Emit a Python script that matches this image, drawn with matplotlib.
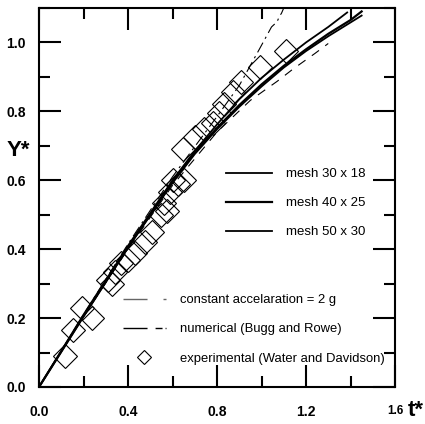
import matplotlib
matplotlib.use("Agg")
import matplotlib.pyplot as plt
from matplotlib.lines import Line2D
from matplotlib.ticker import MultipleLocator

plt.rcParams['font.family'] = ['Liberation Sans', 'DejaVu Sans']

# Mesh refinement runs: dimensionless time t* vs. height Y*
t_mesh30 = [0, 0.2, 0.4, 0.6, 0.7, 0.8, 0.9, 1.0, 1.1, 1.2, 1.3, 1.385]
y_mesh30 = [0, 0.21, 0.41, 0.60, 0.685, 0.762, 0.835, 0.897, 0.95, 1.0, 1.045, 1.087]
t_mesh40 = [0, 0.2, 0.4, 0.6, 0.7, 0.8, 0.9, 1.0, 1.1, 1.2, 1.3, 1.4, 1.45]
y_mesh40 = [0, 0.205, 0.405, 0.595, 0.68, 0.752, 0.818, 0.878, 0.932, 0.98, 1.025, 1.065, 1.09]
t_mesh50 = [0, 0.2, 0.4, 0.6, 0.7, 0.8, 0.9, 1.0, 1.1, 1.2, 1.3, 1.4, 1.45]
y_mesh50 = [0, 0.205, 0.405, 0.592, 0.676, 0.748, 0.813, 0.872, 0.927, 0.975, 1.018, 1.058, 1.078]

# Constant acceleration estimate
t_const = [0, 0.2, 0.4, 0.6, 0.8, 0.95, 1.07, 1.14, 1.24, 1.30]
y_const = [0, 0.205, 0.4, 0.585, 0.74, 0.832, 0.887, 0.922, 0.968, 0.997]

# Numerical solution (Bugg and Rowe)
t_num = [0, 0.2, 0.4, 0.6, 0.8, 0.9, 0.99, 1.045, 1.07, 1.08, 1.09, 1.10]
y_num = [0, 0.21, 0.415, 0.61, 0.785, 0.875, 0.98, 1.045, 1.06, 1.075, 1.085, 1.10]

# Experimental points (Water and Davidson)
t_exp = [0.115, 0.155, 0.195, 0.24, 0.31, 0.33, 0.34, 0.37, 0.40, 0.43, 0.475,
         0.51, 0.55, 0.56, 0.575, 0.59, 0.60, 0.625, 0.645, 0.65, 0.70, 0.74,
         0.78, 0.81, 0.83, 0.87, 0.91, 0.995, 1.11]
y_exp = [0.09, 0.165, 0.23, 0.20, 0.31, 0.30, 0.335, 0.36, 0.37, 0.39, 0.42,
         0.45, 0.50, 0.535, 0.51, 0.565, 0.60, 0.59, 0.69, 0.60, 0.725, 0.75,
         0.765, 0.795, 0.82, 0.855, 0.885, 0.93, 0.975]

x_ticks = [0.0, 0.4, 0.8, 1.2, 1.6]
x_ticklabels = ['0.0', '0.4', '0.8', '1.2', '1.6']
y_ticks = [0.0, 0.2, 0.4, 0.6, 0.8, 1.0]
y_ticklabels = ['0.0', '0.2', '0.4', '0.6', '0.8', '1.0']

fig = plt.figure(figsize=(4.25, 4.24), dpi=100)
ax = fig.add_axes([39 / 425, 1 - 387 / 424, 356 / 425, 379 / 424])

ax.plot(t_exp, y_exp, linestyle='none', marker='D', markersize=12,
        markerfacecolor='none', markeredgecolor='black', markeredgewidth=0.8)
ax.plot(t_const, y_const, color='black', lw=0.8, dashes=(8, 7))
ax.plot(t_num, y_num, color='black', lw=0.8, dashes=(10, 4, 2, 4))
ax.plot(t_mesh30, y_mesh30, color='black', lw=1.3)
ax.plot(t_mesh40, y_mesh40, color='black', lw=1.6)
ax.plot(t_mesh50, y_mesh50, color='black', lw=1.3)

ax.set_xlim(0, 1.6)
ax.set_ylim(0, 1.1)
ax.set_xticks(x_ticks)
ax.set_xticklabels(x_ticklabels)
ax.set_yticks(y_ticks)
ax.set_yticklabels(y_ticklabels)
ax.xaxis.set_minor_locator(MultipleLocator(0.2))
ax.yaxis.set_minor_locator(MultipleLocator(0.1))
ax.tick_params(which='both', direction='in', top=True, right=True, width=1.5)
ax.tick_params(which='major', length=16, labelsize=10)
ax.tick_params(axis='x', which='major', pad=13)
ax.tick_params(axis='y', which='major', pad=9.5)
ax.tick_params(which='minor', length=8)
for lab in ax.get_xticklabels() + ax.get_yticklabels():
    lab.set_fontweight('bold')
ax.get_xticklabels()[-1].set_fontsize(8.5)
for sp in ax.spines.values():
    sp.set_linewidth(1.5)

ax.text(-0.025, 0.687, 'Y*', transform=ax.get_yaxis_transform(), ha='right',
        va='center', fontsize=16, fontweight='bold')
ax.text(1.035, -0.076, 't*', transform=ax.transAxes, ha='left',
        va='baseline', fontsize=16, fontweight='bold')

mesh_handles = [Line2D([], [], color='black', lw=1.3),
                Line2D([], [], color='black', lw=1.6),
                Line2D([], [], color='black', lw=1.3)]
leg1 = ax.legend(mesh_handles, ['mesh 30 x 18', 'mesh 40 x 25', 'mesh 50 x 30'],
                 loc='upper left', bbox_to_anchor=(0.526, 0.578), frameon=False,
                 fontsize=9.5, handlelength=3.5, handletextpad=1.0,
                 labelspacing=1.27, borderpad=0, borderaxespad=0)
ax.add_artist(leg1)

other_handles = [Line2D([], [], color='0.4', lw=1.0, dashes=(17.3, 11.5, 2.2, 30)),
                 Line2D([], [], color='black', lw=1.0,
                        dashes=(17.3, 5.8, 5.0, 2.2, 0.7, 20)),
                 Line2D([], [], linestyle='none', marker='D', markersize=7.5,
                        markerfacecolor='none', markeredgecolor='black',
                        markeredgewidth=0.8)]
ax.legend(other_handles, ['constant accelaration = 2 g',
                          'numerical (Bugg and Rowe)',
                          'experimental (Water and Davidson)'],
          loc='upper left', bbox_to_anchor=(0.235, 0.245), frameon=False,
          fontsize=9.4, handlelength=3.33, handletextpad=1.05,
          labelspacing=1.3, borderpad=0, borderaxespad=0)

fig.savefig('out.png', dpi=100)
